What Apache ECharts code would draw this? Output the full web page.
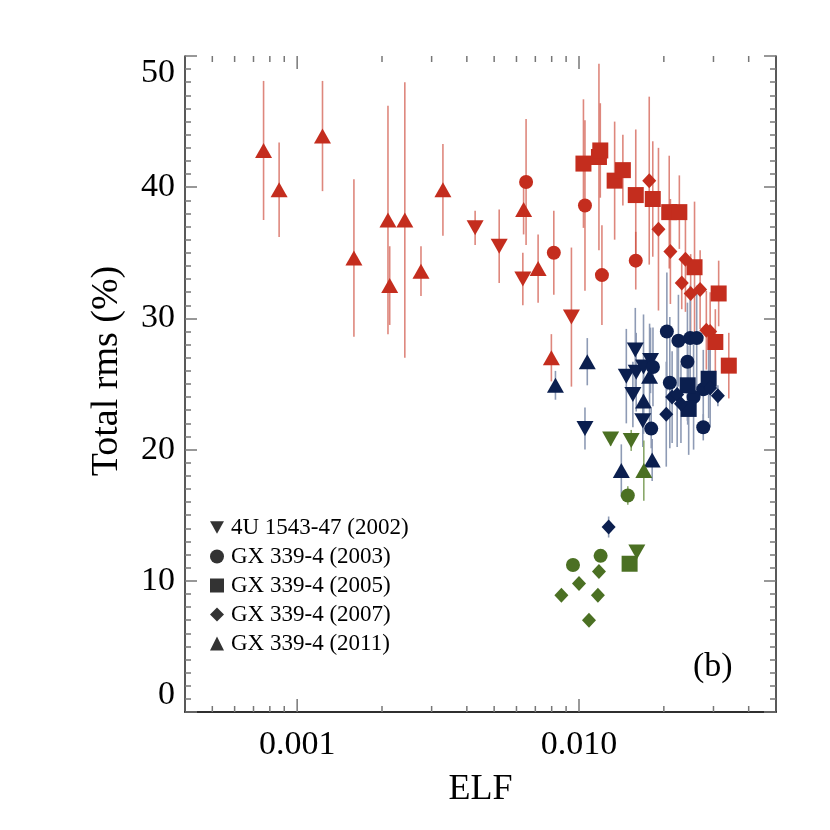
<!DOCTYPE html>
<html>
<head>
<meta charset="utf-8">
<script src="https://cdn.jsdelivr.net/npm/echarts@6/dist/echarts.min.js"></script>
<style>
  html, body { margin: 0; padding: 0; background: #fff; }
  #chart { width: 830px; height: 830px; }
</style>
</head>
<body>
<div id="chart"></div>
<script>
// each point: [ELF, total rms (%), error]
// red
const red2002 = [[0.00428, 36.9, 1.3], [0.00521, 35.5, 2.8], [0.00632, 33.0, 2.0], [0.0094, 30.1, 5.3]];
const red2003 = [[0.00649, 40.4, 4.8], [0.00814, 35.0, 3.2], [0.0105, 38.6, 6.5], [0.01206, 33.3, 3.8], [0.0159, 34.4, 2.2]];
const red2005 = [[0.01037, 41.8, 4.9], [0.01177, 42.3, 7.1], [0.0119, 42.8, 3.6], [0.01338, 40.5, 4.5], [0.01431, 41.3, 2.7],
  [0.0159, 39.4, 5.0], [0.01827, 39.1, 4.4], [0.0209, 38.1, 4.3], [0.0227, 38.1, 2.8], [0.0257, 33.9, 5.0],
  [0.0313, 31.9, 2.5], [0.03046, 28.2, 2.5], [0.034, 26.4, 2.5]];
const red2007 = [[0.01775, 40.5, 6.4], [0.01914, 36.8, 6.2], [0.0211, 35.1, 4.0], [0.02386, 34.5, 4.0], [0.02315, 32.7, 2.0],
  [0.0249, 31.9, 3.0], [0.0269, 32.2, 3.0], [0.0283, 29.1, 3.0], [0.0292, 29.0, 3.0]];
const red2011 = [[0.00076, 42.8, 5.3], [0.000863, 39.8, 3.6], [0.00123, 43.9, 4.2], [0.00159, 34.6, 6.0], [0.0021, 37.5, 8.7],
  [0.00213, 32.5, 3.0], [0.00241, 37.5, 10.5], [0.00275, 33.6, 1.9], [0.00329, 39.8, 3.5], [0.00636, 38.3, 1.9],
  [0.00716, 33.8, 2.6], [0.00798, 27.0, 1.8]];
// navy
const navy2002 = [[0.0105, 21.6, 1.6], [0.01472, 25.6, 3.6], [0.01584, 27.6, 3.2], [0.01596, 25.9, 3.0], [0.01694, 26.3, 4.0],
  [0.01794, 26.8, 2.5], [0.01553, 24.2, 2.5], [0.01684, 22.2, 2.0]];
const navy2003 = [[0.0205, 29.0, 4.5], [0.02253, 28.3, 3.5], [0.0248, 28.5, 4.0], [0.02616, 28.5, 4.0], [0.02425, 26.7, 4.5],
  [0.021, 25.1, 5.0], [0.0276, 24.6, 3.0], [0.0255, 24.0, 4.0], [0.0276, 21.7, 1.0], [0.01804, 21.6, 1.5], [0.0183, 26.3, 3.0]];
const navy2005 = [[0.0243, 24.9, 3.0], [0.02884, 25.4, 3.0], [0.0245, 23.1, 3.5]];
const navy2007 = [[0.0214, 24.0, 3.5], [0.0223, 24.2, 4.0], [0.023, 23.5, 3.0], [0.0204, 22.7, 4.0], [0.0311, 24.1, 0.8],
  [0.0292, 24.7, 3.0], [0.01274, 14.1, 0.8]];
const navy2011 = [[0.00825, 24.9, 1.1], [0.0107, 26.7, 1.8], [0.01694, 23.7, 2.5], [0.0178, 25.6, 4.0], [0.01818, 19.2, 1.6],
  [0.01413, 18.4, 2.0]];
// green
const green2002 = [[0.01295, 20.8, 0.5], [0.01532, 20.7, 0.8], [0.01604, 12.2, 0.3]];
const green2003 = [[0.0149, 16.5, 0.7], [0.01193, 11.9, 0.4], [0.00952, 11.2, 0.3]];
const green2005 = [[0.01512, 11.3, 0.4]];
const green2007 = [[0.01177, 10.7, 0.3], [0.01, 9.8, 0.3], [0.00866, 8.9, 0.3], [0.01167, 8.9, 0.3], [0.01085, 7.0, 0.3]];
const green2011 = [[0.01698, 18.4, 2.3]];

const legendNames = ['4U 1543-47 (2002)', 'GX 339-4 (2003)', 'GX 339-4 (2005)', 'GX 339-4 (2007)', 'GX 339-4 (2011)'];
const xMajorTicks = [0.001, 0.01];
const xMinorTicks = [0.0005, 0.0006, 0.0007, 0.0008, 0.0009, 0.002, 0.003, 0.004, 0.005, 0.006, 0.007, 0.008, 0.009, 0.02, 0.03, 0.04];

const RED = '#c42d1e', NAVY = '#0b1f4f', GREEN = '#4b7023';
const RED_BAR = 'rgba(205,70,55,0.65)', NAVY_BAR = '#8e9bb5', GREEN_BAR = '#8aa86a';
const FONT = 'Liberation Serif';
const downTri = 'path://M0,0 L10,0 L5,9 Z';

// shapes by year
const shapes = {
  y2002: { symbol: 'triangle', size: [17, 15], rotate: 180 },
  y2003: { symbol: 'circle', size: 14, rotate: 0 },
  y2005: { symbol: 'rect', size: 16, rotate: 0 },
  y2007: { symbol: 'diamond', size: [14, 15], rotate: 0 },
  y2011: { symbol: 'triangle', size: [17, 15], rotate: 0 }
};

function markers(data, color, shape) {
  return {
    type: 'scatter',
    data: data.map(d => [d[0], d[1]]),
    symbol: shape.symbol,
    symbolSize: shape.size,
    symbolRotate: shape.rotate,
    itemStyle: { color: color, opacity: 1 },
    z: 5,
    silent: true
  };
}

function errorBars(data, color) {
  return {
    type: 'custom',
    data: data.map(d => [d[0], d[1] - d[2], d[1] + d[2]]),
    encode: { x: 0, y: [1, 2] },
    z: 2,
    silent: true,
    renderItem: function (params, api) {
      const a = api.coord([api.value(0), api.value(1)]);
      const b = api.coord([api.value(0), api.value(2)]);
      return {
        type: 'line',
        shape: { x1: a[0], y1: a[1], x2: b[0], y2: b[1] },
        style: { stroke: color, lineWidth: 1.6 }
      };
    }
  };
}

const groups = [
  [red2002, RED, RED_BAR, shapes.y2002], [red2003, RED, RED_BAR, shapes.y2003], [red2005, RED, RED_BAR, shapes.y2005],
  [red2007, RED, RED_BAR, shapes.y2007], [red2011, RED, RED_BAR, shapes.y2011],
  [navy2002, NAVY, NAVY_BAR, shapes.y2002], [navy2003, NAVY, NAVY_BAR, shapes.y2003], [navy2005, NAVY, NAVY_BAR, shapes.y2005],
  [navy2007, NAVY, NAVY_BAR, shapes.y2007], [navy2011, NAVY, NAVY_BAR, shapes.y2011],
  [green2002, GREEN, GREEN_BAR, shapes.y2002], [green2003, GREEN, GREEN_BAR, shapes.y2003], [green2005, GREEN, GREEN_BAR, shapes.y2005],
  [green2007, GREEN, GREEN_BAR, shapes.y2007], [green2011, GREEN, GREEN_BAR, shapes.y2011]
];

const series = [];
groups.forEach(g => series.push(errorBars(g[0], g[2])));
groups.forEach(g => series.push(markers(g[0], g[1], g[3])));

// ticks of the log axis, bottom and top (major 13px, minor 6px)
const xTicks = xMajorTicks.map(v => [v, 13]).concat(xMinorTicks.map(v => [v, 6]));
series.push({
  type: 'custom',
  data: xTicks,
  encode: { x: 0 },
  z: 1,
  silent: true,
  renderItem: function (params, api) {
    const len = api.value(1);
    const b = api.coord([api.value(0), 0]);
    const t = api.coord([api.value(0), 50]);
    const st = { stroke: '#777', lineWidth: 1.5 };
    return {
      type: 'group',
      children: [
        { type: 'line', shape: { x1: b[0], y1: b[1], x2: b[0], y2: b[1] - len }, style: st },
        { type: 'line', shape: { x1: t[0], y1: t[1], x2: t[0], y2: t[1] + len }, style: st }
      ]
    };
  }
});

// empty black series just for the legend
const legendShapes = [shapes.y2002, shapes.y2003, shapes.y2005, shapes.y2007, shapes.y2011];
legendNames.forEach((n, i) => {
  series.push({
    type: 'scatter', name: n, data: [],
    symbol: legendShapes[i].symbol, itemStyle: { color: '#000' }
  });
});

const axisLine = { show: true, lineStyle: { color: '#222', width: 1.5 } };
const tickStyle = { color: '#777', width: 1.5 };

function xAx(pos, showLabel) {
  return {
    type: 'log', logBase: 10, min: 0.0004, max: 0.05, position: pos,
    axisLine: axisLine,
    axisTick: { show: false },
    axisLabel: {
      show: showLabel, margin: 16, fontFamily: FONT, fontSize: 34, color: '#000',
      showMinLabel: false, showMaxLabel: false,
      formatter: v => xMajorTicks.some(m => Math.abs(m - v) < m * 1e-6) ? (+v).toFixed(3) : ''
    },
    splitLine: { show: false },
    name: showLabel ? 'ELF' : '', nameLocation: 'middle', nameGap: 60,
    nameTextStyle: { fontFamily: FONT, fontSize: 36, color: '#000' }
  };
}

function yAx(pos, showLabel) {
  return {
    type: 'value', min: 0, max: 50, interval: 10, position: pos,
    axisLine: axisLine,
    axisTick: { show: true, inside: true, length: 12, lineStyle: tickStyle },
    minorTick: { show: true, splitNumber: 10, length: 6, lineStyle: tickStyle },
    axisLabel: {
      show: showLabel, margin: 10, fontFamily: FONT, fontSize: 34, color: '#000',
      verticalAlignMinLabel: 'bottom', verticalAlignMaxLabel: 'top'
    },
    splitLine: { show: false },
    minorSplitLine: { show: false }
  };
}

const chart = echarts.init(document.getElementById('chart'), null, { renderer: 'canvas' });
chart.setOption({
  animation: false,
  backgroundColor: '#fff',
  grid: { left: 185, top: 56, width: 591, height: 656 },
  xAxis: [xAx('bottom', true), xAx('top', false)],
  yAxis: [yAx('left', true), yAx('right', false)],
  legend: {
    orient: 'vertical', left: 205, top: 511, itemGap: 6,
    itemWidth: 14, itemHeight: 14,
    selectedMode: false,
    textStyle: { fontFamily: FONT, fontSize: 23, color: '#000', padding: [0, 0, 0, 2] },
    data: legendNames.map((n, i) => ({ name: n, icon: i === 0 ? downTri : legendShapes[i].symbol }))
  },
  graphic: [
    {
      type: 'text', left: 693, top: 650,
      style: { text: '(b)', font: '34px "Liberation Serif"', fill: '#000' }
    },
    {
      type: 'text', x: 107, y: 371, rotation: Math.PI / 2,
      style: { text: 'Total rms (%)', font: '38px "Liberation Serif"', fill: '#000', align: 'center', verticalAlign: 'middle' }
    }
  ],
  series: series
});
</script>
</body>
</html>
